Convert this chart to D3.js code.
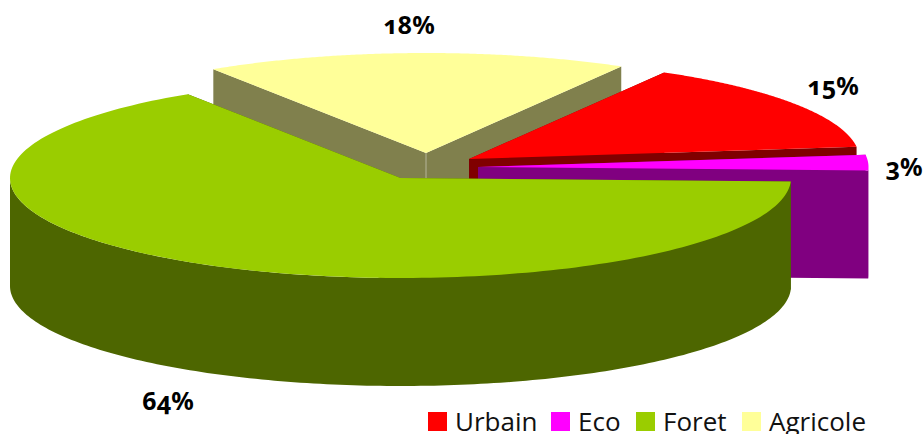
<!DOCTYPE html>
<html><head><meta charset="utf-8">
<script src="https://cdn.jsdelivr.net/npm/d3@7/dist/d3.min.js"></script>
<style>
html,body{margin:0;padding:0;background:#fff;overflow:hidden}
svg{display:block}
.pct{font-family:"Noto Sans","Open Sans",sans-serif;font-weight:700;font-size:25px;font-feature-settings:"onum" 1;font-variant-numeric:oldstyle-nums;fill:#000;text-anchor:middle}
.leg{font-family:"Open Sans",Lato,sans-serif;font-size:26px;fill:#111}
</style></head><body>
<svg id="c" width="924" height="434"></svg>
<script>
// Data
const categories = ["Urbain","Eco","Foret","Agricole"];
const values = [15,3,64,18];
const labels = ["15%","3%","64%","18%"];
// Styles
const topColors  = ["#ff0000","#ff00ff","#9acd00","#ffff99"];
const wallColors = ["#800000","#800080","#4d6600","#80804d"];
// Layout of the exploded slices and the 3D projection
const sliceCenters = [[469,159],[478,167],[400.5,178],[426,153]];
const labelAnchors = [[833,95],[904,176],[168,410],[409,34]];
const legendX = [428,551,636,742];
const rx = 390.5, ry = 100, depth = 108;
// Projected boundary angles (degrees, clockwise from +x) of the perspective-distorted pie
const projectedDeg = [300,353,362,597,660];

const svg = d3.select("#c");
const pie = d3.pie().sort(null).value(d=>d.v);
const arcs = pie(values.map((v,i)=>({v,i})));
const bounds = [0,...arcs.map(a=>a.endAngle)];
const warp = d3.scaleLinear().domain(bounds).range(projectedDeg);
const xS = d3.scaleLinear().domain([-1,1]).range([-rx,rx]);
const yS = d3.scaleLinear().domain([-1,1]).range([-ry,ry]);
const rad = d=>d*Math.PI/180;
const pt = (c,deg,dz=0)=>[c[0]+xS(Math.cos(rad(deg))), c[1]+yS(Math.sin(rad(deg)))+dz];
const line = d3.line();
const samples = (a,b)=>d3.range(0,181).map(i=>a+(b-a)*i/180);

// painter's order: back to front
const order = [3,0,1,2];
order.forEach(i=>{
  const a = arcs[i], c = sliceCenters[i];
  const t0 = warp(a.startAngle), t1 = warp(a.endAngle);
  const g = svg.append("g");
  // radial cut walls
  [t0,t1].forEach(t=>{
    const e = pt(c,t);
    g.append("path").attr("fill",wallColors[i])
     .attr("d",line([c,e,[e[0],e[1]+depth],[c[0],c[1]+depth]])+"Z");
  });
  // outer rim, visible where the angle lies in the front half
  [0,360].forEach(off=>{
    const s = Math.max(t0,off), f = Math.min(t1,off+180);
    if (f>s){
      const top = samples(s,f).map(t=>pt(c,t));
      const bot = samples(f,s).map(t=>pt(c,t,depth));
      g.append("path").attr("fill",wallColors[i]).attr("d",line(top.concat(bot))+"Z");
    }
  });
  // ridge highlight where the two cut walls meet
  if (i===3){
    g.append("line").attr("x1",c[0]).attr("x2",c[0]).attr("y1",c[1]).attr("y2",c[1]+depth)
     .attr("stroke","#b5b59a").attr("stroke-width",1);
  }
  // top face
  const topPts = [c,...samples(t0,t1).map(t=>pt(c,t))];
  g.append("path").attr("fill",topColors[i]).attr("d",line(topPts)+"Z");
});

// percentage labels
svg.selectAll("text.pct").data(labels).join("text").attr("class","pct")
  .attr("x",(d,i)=>labelAnchors[i][0]).attr("y",(d,i)=>labelAnchors[i][1]).text(d=>d);

// legend
const lg = svg.selectAll("g.l").data(categories).join("g").attr("class","l")
  .attr("transform",(d,i)=>`translate(${legendX[i]},412)`);
lg.append("rect").attr("width",19).attr("height",19).attr("fill",(d,i)=>topColors[i]);
lg.append("text").attr("class","leg").attr("x",27).attr("y",19).text(d=>d);
</script>
</body></html>
